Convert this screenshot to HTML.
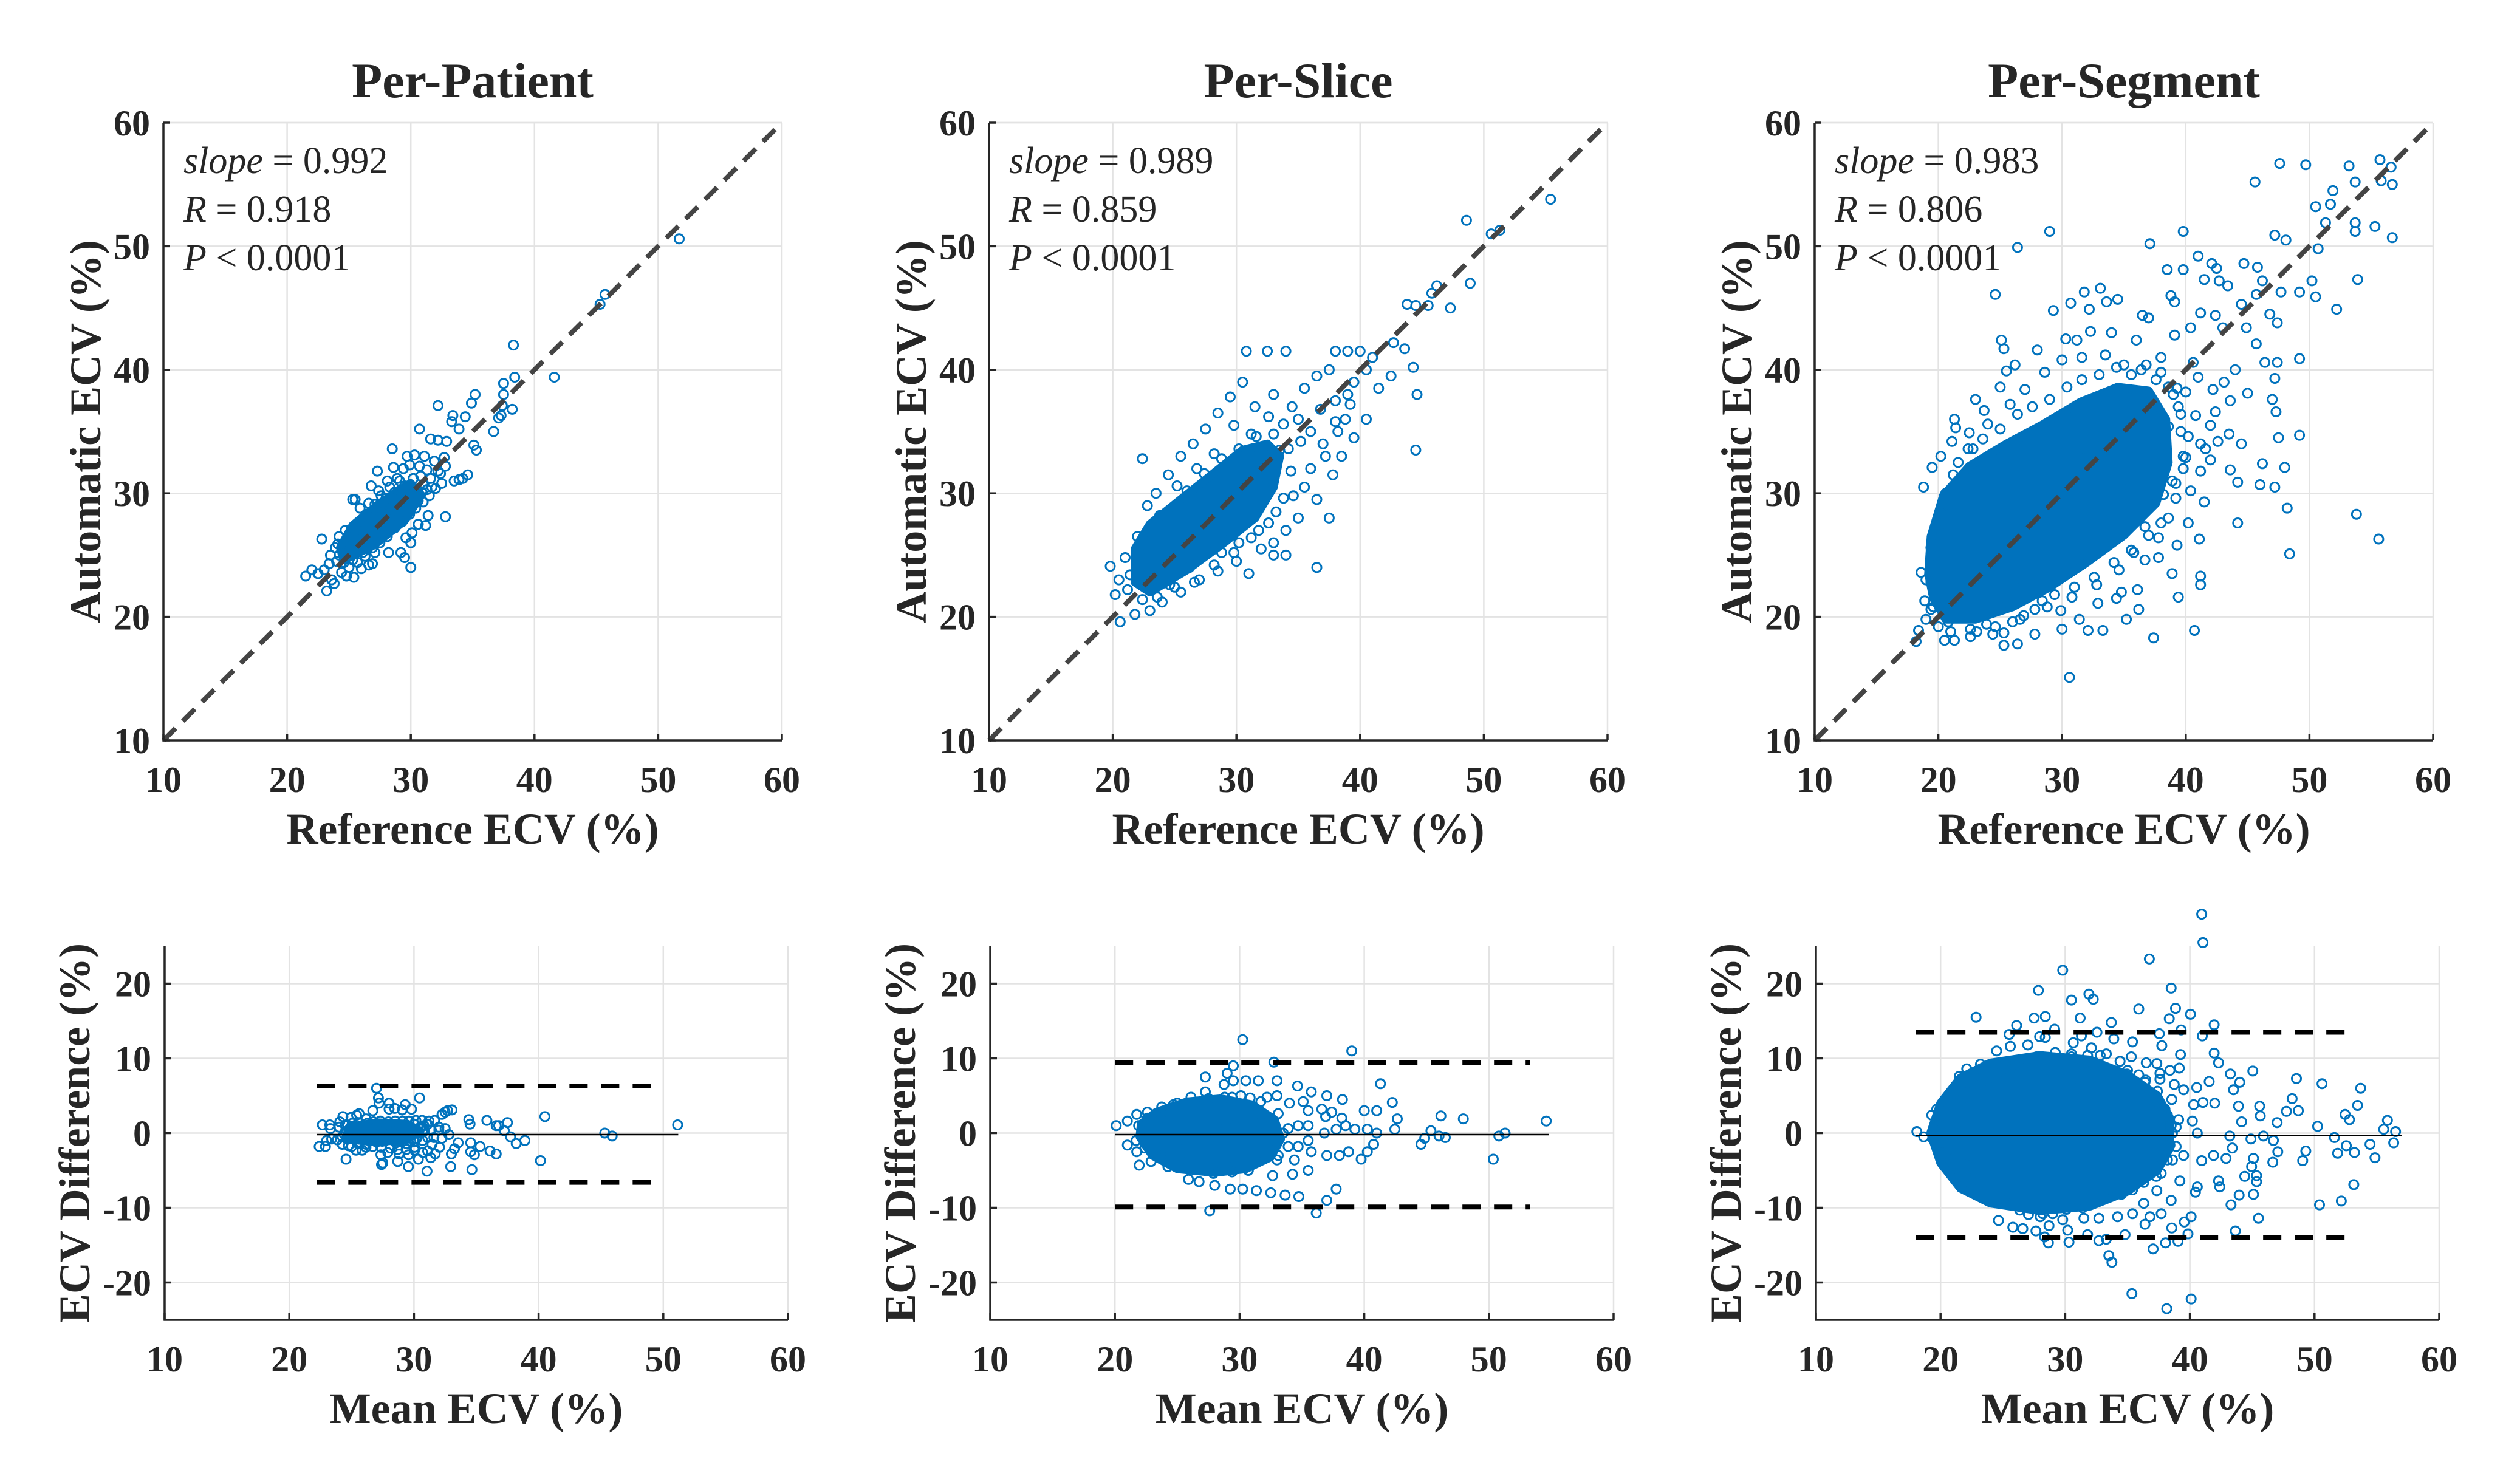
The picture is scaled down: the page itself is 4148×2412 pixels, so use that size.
<!DOCTYPE html>
<html><head><meta charset="utf-8">
<style>
html,body{margin:0;padding:0;background:#fff;}
svg{display:block;}
svg text{font-family:"Times New Roman","Liberation Serif",Times,serif;fill:#262626;}
</style></head>
<body>
<svg id="fig" width="4148" height="2412" viewBox="0 0 4148 2412" xmlns="http://www.w3.org/2000/svg"></svg>
<script>
// ---------- DATA ----------
const xTicks = [10,20,30,40,50,60];
const yTicksTop = [10,20,30,40,50,60];
const yTicksBottom = [-20,-10,0,10,20];
const titles = ["Per-Patient","Per-Slice","Per-Segment"];
const slopes = ["0.992","0.989","0.983"];
const rValues = ["0.918","0.859","0.806"];
const meanDiff = [-0.2,-0.2,-0.3];
const upperLoa = [6.3,9.4,13.5];
const lowerLoa = [-6.6,-9.9,-14.0];
const loaStart = [22.2,20.0,18.0];
const loaEnd = [49.9,53.3,53.1];
const meanEnd = [51.2,54.8,57.0];

const patientPts = [[51.7,50.6],[45.3,45.3],[45.7,46.1],[38.3,42],[41.6,39.4],[38.4,39.4],[37.5,38.9],[37.5,38],[37.4,37.1],[35.2,38],[34.9,37.3],[32.2,37.1],[33.4,36.3],[33.3,35.8],[34.4,36.2],[33.9,35.2],[36.7,35],[37.1,36.1],[37.3,36.3],[38.2,36.8],[35.1,33.9],[35.3,33.5],[34.6,31.5],[34.2,31.2],[33.9,31.1],[33.5,31],[32.8,28.1],[31.2,27.4],[30.6,27.5],[30,26],[29.5,24.8],[30,24],[28.5,33.6],[30.7,35.2],[31.6,34.4],[32.2,34.3],[32.9,34.2],[29.2,25.2],[28.2,25.2],[23.2,22.1],[23.8,22.7],[21.5,23.3],[22,23.8],[22.8,26.3],[25.4,23.2],[26.9,24.3],[27.3,31.8],[28.1,31],[25.3,29.5],[26.8,30.6],
[24,24.5],[24.5,25.2],[25,25.8],[25.3,24.6],[25.6,26.4],[26,26.1],[26.2,27],[26.5,25.5],[26.8,27.6],[27,26.8],[27.2,28.2],[27.5,27.3],[27.8,28.7],[28,27.9],[28.2,29.3],[28.5,28.2],[28.8,29.6],[29,28.9],[29.2,30.3],[29.5,29.4],[29.8,30.6],[30,29.8],[30.2,31.2],[30.5,30.3],[30.8,31.4],[31,30.7],[31.3,31.9],[31.6,31.2],[25.2,27.1],[25.8,27.6],[26.4,28.3],[27.1,29.1],[27.6,29.8],[28.3,30.5],[28.9,31.2],[29.4,32],[29.9,32.3],[24.2,26.5],[24.7,27],[23.9,25.6],[23.4,24.3],[23,23.8],[22.5,23.5],[24.4,23.6],[25,24],[25.7,24.4],[26.3,24.9],[26.9,25.6],[27.5,26],[28.1,26.5],[28.7,27.2],[29.3,27.7],[29.9,28.3],[30.4,28.8],[31,29.3],[31.5,29.8],[32,30.4],[32.5,30.8],[31.9,32.6],[32.4,31.6],[32.7,32.9],[30.3,33.1],[29.7,33],[28.6,32.1],[27.4,30.2],[26.6,29.2],[25.9,28.8],[25.5,29.5],[27.8,26.8],[29.6,26.4],[30.6,27.5],[31.4,28.2],[30.1,26.8],[27.1,25.2],[26,23.9],[24.8,23.3],[23.6,23],[24.9,26.1],[26.7,26.3],[28.4,28.8],[29.1,29.8],[30.9,30.1],[31.7,30.5],[32.2,31.8],[23.5,25],[24.1,25.9],[26.1,25.2],[27.9,27.5],[28.6,27.9],[29.7,29.2],[30.7,32.2],[31.1,33],[32.8,32.2],[26.6,24.2],[27.3,27.1],[28,29.6],[29.1,31],[25.4,26.9],
[24.2,25],[24.8,26.2],[25.6,25.4],[26.2,26.8],[26.9,28],[27.6,28.4],[28.3,27.6],[28.9,28.6],[29.5,30.6],[30.1,30.1],[26.4,27.6],[25.1,25.3],[27.3,26.4],[28.7,30.1],[29.4,28.4],[30.6,29.4],[31.3,30.3],[25.9,26.9],[27.9,29.2],[24.6,24.4]];
const patientCoreTop = [[24.6,24.6],[27,25.8],[29.5,27.8],[30.8,29.8],[30,30.8],[27.5,29.2],[25.3,27.4],[24.3,25.6]];
const patientCoreBottom = [[24.5,-0.8],[27,-1.2],[29.5,-0.8],[30.5,0.2],[29.5,1.2],[27,1.4],[24.8,0.8]];

const slicePts = [[55.4,53.8],[51.3,51.3],[50.6,51],[48.6,52.1],[48.9,47],[47.3,45],[46.2,46.8],[45.8,46.2],[44.5,45.2],[43.8,45.3],[45.5,45.2],[44.6,38],[44.5,33.5],[44.3,40.2],[43.6,41.7],[42.7,42.2],[41,41],[40,41.5],[39.5,39],[38.8,36],[38,35.8],[37.5,28],[36.5,24],[33,25],[32.5,41.5],[30.8,41.5],[34,41.5],[38,41.5],[39,41.5],[19.8,24.1],[20.2,21.8],[22.4,32.8],[20.6,19.6],
[20.5,23],[21,24.8],[21.2,22.2],[22,26.5],[22.8,29],[23.5,30],[24.5,31.5],[25.5,33],[26.5,34],[27.5,35.2],[28.5,36.5],[29.5,37.8],[30.5,39],[31.5,37],[33,38],[34.5,37],[35.5,38.5],[36.5,39.5],[37.5,40],[35,36],[36,35],[37,34],[36,32],[35.5,30.5],[36.5,29.5],[35,28],[34,27],[33,26],[32,25.5],[30,24.5],[28.5,23.7],[27,23],[25.5,22],[24,21.2],[23,20.5],[31,23.5],[34,25],[37.8,31.5],[38.5,33],[39.5,34.5],[40.5,36],[41.5,38.5],[42.5,39.5],[40.5,40],[39,38],[38,37.5],[21.8,20.2],[22.6,24],[33.5,33.5],[32,32],[30,30.3],[36.8,36.8],[35.2,34.2],[33.8,35.6],[32.6,36.2],[31.2,34.8],[29.8,35.5],[28.2,33.2],[26.8,32],[25.2,30.6],[23.8,28.2],[22.4,25.2],[33.2,28.5],[34.6,29.8],[31.8,27],[30.2,26],[28.8,25.2],[26.2,24],[24.6,22.6],[23.2,22.4],[37.2,33],[38.2,35],[39.2,37.2],
[21.4,23.4],[22.2,25.4],[23.4,27],[24.6,28.6],[26,30.2],[27.4,31.6],[28.8,32.8],[30.2,33.6],[31.6,34.6],[33,34.8],[34.2,33.6],[34.4,31.8],[33.8,29.6],[32.6,27.6],[31.2,26.4],[29.8,25.2],[28.2,24.2],[26.6,22.8],[25,22.4],[23.6,21.6],[22.4,21.4],[24,26],[27,28],[30,29],[32.4,31],[26,25.6],[29,27.4]];
const sliceCoreTop = [[21.8,22.8],[23,22],[26,23.8],[29,26],[31.5,28],[33,30.5],[33.5,33],[32.5,34],[30.5,33.5],[28,31.5],[25.5,29.5],[23,27.5],[21.8,25.5]];
const sliceCoreBottom = [[22,-0.5],[23,-3],[25,-4.8],[28,-5.3],[30.5,-4.8],[32.5,-3.2],[33.3,-0.8],[32.8,1.8],[31,3.8],[28.5,4.6],[25.8,4.2],[23.3,2.8],[22.1,1.2]];

const segmentPts = [[47.6,56.7],[49.7,56.6],[53.2,56.5],[55.7,57],[56.6,56.4],[56.7,55],[55.8,55.3],[45.6,55.2],[53.7,55.2],[51.9,54.5],[50.5,53.2],[51.7,53.4],[51.3,51.9],[53.7,51.9],[53.7,51.2],[55.3,51.6],[56.7,50.7],[29,51.2],[26.4,49.9],[39.8,51.2],[37.1,50.2],[47.2,50.9],[48.1,50.5],[41,49.2],[53.9,47.3],[50.7,49.8],[50.2,47.2],[52.2,44.9],[50.5,45.9],[49.2,46.3],[47.7,46.3],[49.2,40.9],[47.4,40.6],[46.4,40.6],[47.2,39.3],[45,38.1],[47,37.6],[47.3,36.6],[47.5,34.5],[49.2,34.7],[46.2,32.4],[48,32.1],[46,30.7],[47.2,30.5],[48.2,28.8],[53.8,28.3],[55.6,26.3],[48.4,25.1],[44.2,27.6],[44.2,30.9],[43.6,31.9],[44.5,34],[43.5,34.8],[42.6,34.2],[42,32.7],[41.2,31.8],[41.5,29.3],[41.1,26.3],[41.2,23.3],[41.2,22.6],[40.7,18.9],[37.4,18.3],[30.6,15.1],[33.3,18.9],[32.1,18.9],[26.4,17.8],[25.3,17.7],[25.3,18.7],[18.2,18],[18.4,18.9],[19,19.8],[18.9,21.3],[18.6,23.6],[19.4,25.6],[18.8,30.5],[19.5,32.1],[21.3,36],[21.4,35.3],[21.1,34.2],[23.7,36.7],[22.5,34.9],[24.6,46.1],[25.1,42.4],[25.3,41.7],[25.5,39.9],[25,38.6],[29.3,44.8],[30.7,45.4],[31.8,46.3],[33.1,46.6],[34.5,45.7],[33.6,45.5],[32.2,44.9],[32.3,43.1],[30.3,42.5],[31.2,42.4],[36.5,44.4],[37,44.2],[38.8,46],[39.1,45.5],[38.5,48.1],[39.8,48.1],[41.5,47.3],[42.1,48.6],[42.5,48.2],[42.7,47.2],[44.7,48.6],[45.8,48.3],[46.2,47.2],[45.7,46.1],[44.5,45.3],[43.4,46.8],[42.4,44.4],[41.2,44.6],[40.4,43.4],[39.1,42.8],[43,43.4],[44.9,43.4],[45.7,42.1],[46.8,44.5],[47.4,43.8],[44,40],[43.1,39],[43.6,37.5],[42,35.5],[40.8,36.3],[40,38.2],[39.3,38.5],[41.2,34],[40,32.9],[38.9,31],[38.2,29.9],[37,28.8],[36.7,27.3],[39.3,25.8],[38.9,23.5],[36.7,24.6],[37.8,24.8],[36.1,22.2],[34.4,21.5],[34.8,22],[32.9,21.1],[31.4,19.8],[29.9,20.5],[28.4,21.3],[26.9,20.1],[23.9,19.4],[23.1,18.8],[21.3,18.1],[20.5,18.1],
[20,27],[20.6,30],[21.6,32.5],[22.8,33.6],[24,35.6],[25.8,37.2],[27,38.4],[28.6,39.8],[30,40.8],[31.6,41],[33.5,41.2],[35,40.4],[36.4,40],[37.6,39.2],[38.6,38.6],[39.4,37],[39.6,35],[39.8,33],[39.2,30.8],[38.6,28],[37.8,26.4],[35.8,25.2],[34.6,23.8],[32.8,22.6],[30.8,21.6],[28.8,20.8],[26.6,19.8],[24.6,19.2],[22.6,19],[20.8,19.6],[19.6,20.8],[19.4,22.8],[19.8,24.8],[20.2,33],[23,37.6],[26.2,40.4],[28,41.6],[34,43],[36,42.4],[38,41],[40.6,40.6],[41,39.4],[42.2,38.4],[42.4,36.6],[41.6,33.6],[40.4,30.2],[40.2,27.6],[39.4,21.6],[36.2,20.6],[35.2,19.8],[30,19],[27.8,18.6],
[19,23],[19.6,26],[20.4,29],[21.2,31.5],[22.4,33.6],[23.6,34.4],[25,35.2],[26.4,36.4],[27.6,37],[29,37.6],[30.4,38.6],[31.6,39.2],[33,39.6],[34.4,40.2],[35.6,39.6],[36.8,40.4],[38,39.8],[39,38],[39.6,36.4],[40.2,34.6],[39.8,32],[39.2,29.6],[38,27.6],[37,26.6],[35.6,25.4],[34.2,24.4],[32.6,23.2],[31,22.4],[29.4,21.8],[27.8,20.6],[26,19.6],[24.4,18.6],[22.6,18.4],[21,18.8],[20,19.2],[19.4,20.6],[21.8,22.4],[23,30],[26,32.8],[34,28],[36.6,30],[22,20.6],[25.6,21],[30,25],[35,31],[24.2,24],[28,29],[32,33],[37.6,33.8],[20.8,24],[38.6,35.4],[33.4,37],[27,33.8],[26.8,23],[31,26.6]];
const segmentCoreTop = [[19.6,21.5],[20.6,19.8],[23,19.8],[26,20.8],[29,22.4],[32,24.4],[35,26.6],[37.6,29.2],[38.6,32.5],[38.4,36],[37,38.3],[34.5,38.6],[31.5,37.4],[28.5,35.6],[25.5,34],[22.5,32.2],[20.4,29.8],[19.4,26.5],[19.2,23.5]];
const segmentCoreBottom = [[19.2,0],[20,-4],[21.6,-7.4],[24,-9.4],[28,-10.4],[32,-9.8],[35,-7.8],[37.4,-5],[38.4,-2],[38.4,2],[37.4,5],[35,7.8],[32,9.8],[28,10.4],[24,9.4],[21.6,7.4],[20,4]];

// ---------- LAYOUT ----------
const NS = "http://www.w3.org/2000/svg";
const svg = document.getElementById('fig');
const BLUE = "#0072BD";
const FONT = '"Times New Roman","Liberation Serif",Times,serif';
const colLeftTop = [269,1628,2987];
const colLeftBot = [271,1630,2989];
const TOP = {y:202,w:1018,h:1017};
const BOT = {y:1558,w:1026,h:615};

function mk(tag, attrs, parent){
  const e = document.createElementNS(NS, tag);
  for (const k in attrs) e.setAttribute(k, attrs[k]);
  (parent||svg).appendChild(e);
  return e;
}

function drawPanel(i, kind){
  const isTop = kind === 'top';
  const L = isTop ? colLeftTop[i] : colLeftBot[i];
  const B = isTop ? TOP : BOT;
  const ymin = isTop ? 10 : -25, ymax = isTop ? 60 : 25;
  const sx = v => L + (v-10)/50*B.w;
  const sy = v => B.y + (ymax-v)/(ymax-ymin)*B.h;
  const g = mk('g', {'font-family':FONT});
  
  

  const grid = mk('g', {stroke:'#e3e3e3','stroke-width':2.5}, g);
  
  
  xTicks.forEach(t => { if (t>10) mk('line',{x1:sx(t),x2:sx(t),y1:B.y,y2:B.y+B.h},grid); });
  const yt = isTop ? yTicksTop : yTicksBottom;
  yt.forEach(t => { if (isTop && t===10) return; mk('line',{x1:L,x2:L+B.w,y1:sy(t),y2:sy(t)},grid); });
  if (isTop) mk('line',{x1:L,x2:L+B.w,y1:B.y,y2:B.y},grid);

  const pts = [patientPts, slicePts, segmentPts][i];
  const coreT = [patientCoreTop, sliceCoreTop, segmentCoreTop][i];
  const coreB = [patientCoreBottom, sliceCoreBottom, segmentCoreBottom][i];
  const marks = mk('g', {fill:'none', stroke:BLUE, 'stroke-width':3}, g);
  
  
  const core = isTop ? coreT : coreB;
  if (core){
    const d = core.map((p,k)=>(k?'L':'M')+sx(p[0]).toFixed(1)+','+sy(p[1]).toFixed(1)).join(' ')+'Z';
    const c = mk('path',{d:d, fill:BLUE, stroke:BLUE, 'stroke-width':14, 'stroke-linejoin':'round'}, marks);
    
    
  }
  pts.forEach(p => {
    const x = isTop ? p[0] : (p[0]+p[1])/2;
    const y = isTop ? p[1] : (p[0]-p[1]);
    const c = mk('circle',{cx:sx(x).toFixed(1), cy:sy(y).toFixed(1), r:7.5}, marks);
    
    
  });

  if (isTop){
    const id = mk('line',{x1:sx(10),y1:sy(10),x2:sx(60),y2:sy(60),stroke:'#444','stroke-width':8,'stroke-dasharray':'28 17'}, g);
    
    
  } else {
    const ml = mk('line',{x1:sx(loaStart[i]),x2:sx(meanEnd[i]),y1:sy(meanDiff[i]),y2:sy(meanDiff[i]),stroke:'#000','stroke-width':2.5}, g);
    
    
    [upperLoa[i], lowerLoa[i]].forEach((v,k) => {
      const l = mk('line',{x1:sx(loaStart[i]),x2:sx(loaEnd[i]),y1:sy(v),y2:sy(v),stroke:'#000','stroke-width':8,'stroke-dasharray':'30 22'}, g);
      
      
    });
  }

  const ax = mk('g',{stroke:'#262626','stroke-width':3.5,fill:'none'}, g);
  
  
  mk('path',{d:`M${L},${B.y} V${B.y+B.h} H${L+B.w}`}, ax);
  xTicks.forEach(t => mk('line',{x1:sx(t),x2:sx(t),y1:B.y+B.h,y2:B.y+B.h-11}, ax));
  yt.forEach(t => mk('line',{x1:L,x2:L+11,y1:sy(t),y2:sy(t)}, ax));

  xTicks.forEach(t => {
    const tx = mk('text',{x:sx(t), y:B.y+B.h+85, 'text-anchor':'middle','font-size':60,'font-weight':'bold','font-family':FONT}, g);
    tx.textContent = t;
    
    
  });
  yt.forEach(t => {
    const tx = mk('text',{x:L-22, y:sy(t)+21, 'text-anchor':'end','font-size':60,'font-weight':'bold','font-family':FONT}, g);
    tx.textContent = t;
    
    
  });

  const xl = mk('text',{x:L+B.w/2, y: isTop ? B.y+B.h+170 : B.y+B.h+170, 'text-anchor':'middle','font-size':72,'font-weight':'bold','font-family':FONT}, g);
  xl.textContent = isTop ? 'Reference ECV (%)' : 'Mean ECV (%)';
  
  
  const yx = L - (isTop ? 128 : 148), yy = B.y + B.h/2;
  const yl = mk('text',{x:yx, y:yy, 'text-anchor':'middle','dominant-baseline':'central','font-size':72,'font-weight':'bold','font-family':FONT, transform:`rotate(-90 ${yx} ${yy})`}, g);
  yl.textContent = isTop ? 'Automatic ECV (%)' : 'ECV Difference (%)';
  
  

  if (isTop){
    const ti = mk('text',{x:L+B.w/2, y:160, 'text-anchor':'middle','font-size':82,'font-weight':'bold', fill:'#000','font-family':FONT}, g);
    ti.textContent = titles[i];
    
    
    const lines = [['slope',' = '+slopes[i]],['R',' = '+rValues[i]],['P',' < 0.0001']];
    lines.forEach((ln,k) => {
      const tx = mk('text',{x:L+33, y:285+k*80, 'font-size':62, fill:'#000','font-family':FONT}, g);
      const a = mk('tspan',{'font-style':'italic'}, tx); a.textContent = ln[0];
      const b = mk('tspan',{}, tx); b.textContent = ln[1];
      
      
    });
  }
}

for (let i=0;i<3;i++){ drawPanel(i,'top'); drawPanel(i,'bottom'); }
</script>
</body></html>
